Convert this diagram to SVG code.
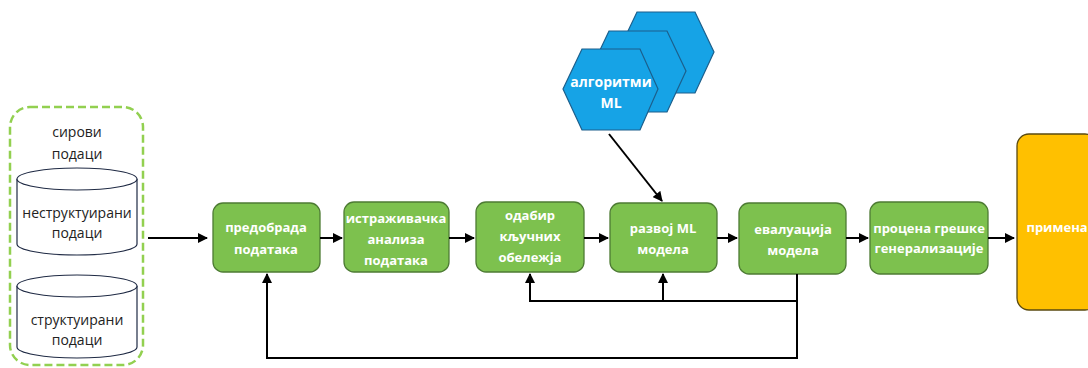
<svg xmlns="http://www.w3.org/2000/svg" width="1088" height="368" viewBox="0 0 1088 368">
<defs>
<style>
.box{fill:#7dc14e;stroke:#4d7b33;stroke-width:1.3}
.wt{fill:#fff;font-family:"Open Sans","Liberation Sans",sans-serif;font-weight:bold;font-size:13px;text-anchor:middle}
.bt{fill:#222;font-family:"Open Sans","Liberation Sans",sans-serif;font-size:14px;text-anchor:middle}
.hex{fill:#16a3e6;stroke:#1c5f8c;stroke-width:1.2}
.cyl{fill:#fff;stroke:#1f2a44;stroke-width:1.2}
.ln{fill:none;stroke:#000;stroke-width:2}
</style>
<marker id="ah" viewBox="0 0 10 10" refX="9" refY="5" markerWidth="5" markerHeight="5" orient="auto"><path d="M0,0 L10,5 L0,10 z" fill="#000"/></marker>
</defs>
<rect width="1088" height="368" fill="#fff"/>

<g id="raw-data">
<rect x="10" y="107" width="133" height="258" rx="20" fill="none" stroke="#92d050" stroke-width="2.5" stroke-dasharray="8,4"/>
<text class="bt" x="77" y="137">сирови</text>
<text class="bt" x="77" y="159">подаци</text>
</g>
<g id="unstructured">
<path class="cyl" d="M17,179 L17,244 A60,11 0 0 0 137,244 L137,179"/>
<ellipse class="cyl" cx="77" cy="179" rx="60" ry="11"/>
<text class="bt" x="77" y="218">неструктуирани</text>
<text class="bt" x="77" y="238">подаци</text>
</g>
<g id="structured">
<path class="cyl" d="M17,286 L17,347 A60,11 0 0 0 137,347 L137,286"/>
<ellipse class="cyl" cx="77" cy="286" rx="60" ry="11"/>
<text class="bt" x="77" y="325">структуирани</text>
<text class="bt" x="77" y="345">подаци</text>
</g>

<g id="ml-algorithms">
<polygon class="hex" points="618,52 637,12 695,12 714,52 695,93 637,93"/>
<polygon class="hex" points="590,71 609,31 667,31 686,71 667,112 609,112"/>
<polygon class="hex" points="563,89 582,49 640,49 658,89 640,130 582,130"/>
<text class="wt" x="611" y="87" style="font-size:14px">алгоритми</text>
<text class="wt" x="611" y="108" style="font-size:14px">ML</text>
</g>

<g id="preprocessing">
<rect class="box" x="213" y="203" width="107" height="69" rx="10"/>
<text class="wt" x="266" y="232">предобрада</text>
<text class="wt" x="266" y="254">података</text>
</g>
<g id="eda">
<rect class="box" x="344" y="202" width="105" height="70" rx="10"/>
<text class="wt" x="396" y="223">истраживачка</text>
<text class="wt" x="396" y="244">анализа</text>
<text class="wt" x="396" y="265">података</text>
</g>
<g id="feature-selection">
<rect class="box" x="476" y="202" width="108" height="70" rx="10"/>
<text class="wt" x="530" y="220">одабир</text>
<text class="wt" x="530" y="241">кључних</text>
<text class="wt" x="530" y="262">обележја</text>
</g>
<g id="model-dev">
<rect class="box" x="610" y="203" width="107" height="69" rx="10"/>
<text class="wt" x="663" y="233">развој ML</text>
<text class="wt" x="663" y="254">модела</text>
</g>
<g id="evaluation">
<rect class="box" x="739" y="203" width="107" height="71" rx="10"/>
<text class="wt" x="793" y="234">евалуација</text>
<text class="wt" x="793" y="255">модела</text>
</g>
<g id="gen-error">
<rect class="box" x="870" y="202" width="118" height="72" rx="10"/>
<text class="wt" x="929" y="233">процена грешке</text>
<text class="wt" x="929" y="253">генерализације</text>
</g>
<g id="deployment">
<rect x="1017" y="134" width="80" height="176" rx="12" fill="#ffc000" stroke="#5a4a10" stroke-width="1.3"/>
<text class="wt" x="1057" y="232">примена</text>
</g>

<g id="connectors">
<line class="ln" x1="148" y1="238" x2="207" y2="238" marker-end="url(#ah)"/>
<line class="ln" x1="320" y1="238" x2="342" y2="238" marker-end="url(#ah)"/>
<line class="ln" x1="449" y1="238" x2="474" y2="238" marker-end="url(#ah)"/>
<line class="ln" x1="584" y1="238" x2="608" y2="238" marker-end="url(#ah)"/>
<line class="ln" x1="717" y1="238" x2="737" y2="238" marker-end="url(#ah)"/>
<line class="ln" x1="846" y1="238" x2="868" y2="238" marker-end="url(#ah)"/>
<line class="ln" x1="988" y1="238" x2="1014" y2="238" marker-end="url(#ah)"/>
<line class="ln" x1="609" y1="134" x2="662" y2="201" marker-end="url(#ah)"/>
<polyline class="ln" points="797,274 797,301 530,301 530,274" marker-end="url(#ah)"/>
<line class="ln" x1="663" y1="301" x2="663" y2="274" marker-end="url(#ah)"/>
<polyline class="ln" points="797,301 797,358 267,358 267,274" marker-end="url(#ah)"/>
</g>
</svg>
